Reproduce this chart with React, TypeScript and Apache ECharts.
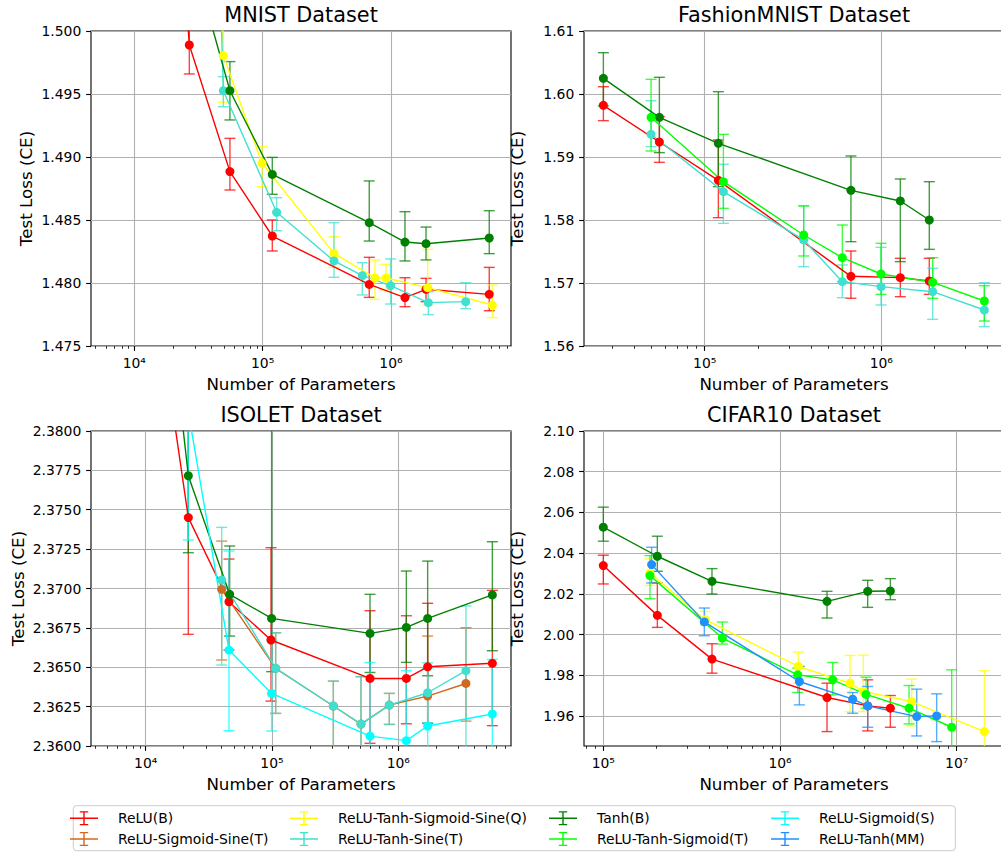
import React, { useEffect, useRef } from 'react';
import * as echarts from 'echarts';

const FONT = 'DejaVu Sans';

// Each row: [number of parameters, test loss, lower error bound, upper error bound]
// ---------------- MNIST ----------------
const mnistReluB = [
  [13400, 1.5438, 1.5438, 1.5438],
  [26830, 1.49889, 1.49659, 1.50119],
  [55600, 1.48884, 1.48738, 1.49148],
  [118900, 1.48373, 1.48254, 1.485],
  [677000, 1.47989, 1.47886, 1.48204],
  [1285000, 1.47884, 1.47812, 1.48042],
  [1875000, 1.4795, 1.47852, 1.48037],
  [5830000, 1.4791, 1.4778, 1.48124],
];
const mnistReluTanhSigSineQ = [
  [24700, 1.611, 1.611, 1.611],
  [49400, 1.49804, 1.49434, 1.50174],
  [98900, 1.4895, 1.48765, 1.49082],
  [359700, 1.48235, 1.48124, 1.48368],
  [750000, 1.4804, 1.4787, 1.48183],
  [914000, 1.4804, 1.47944, 1.48148],
  [1932000, 1.47963, 1.47825, 1.48267],
  [6170000, 1.47825, 1.47725, 1.47984],
];
const mnistReluTanhSineT = [
  [24700, 1.6, 1.6, 1.6],
  [49400, 1.49526, 1.49399, 1.49638],
  [128500, 1.48561, 1.48415, 1.48677],
  [359700, 1.48175, 1.48045, 1.48479],
  [598000, 1.48058, 1.47905, 1.48161],
  [993000, 1.47979, 1.47833, 1.48191],
  [1954000, 1.47844, 1.47749, 1.47931],
  [3820000, 1.47852, 1.47796, 1.48003],
];
const mnistTanhB = [
  [26830, 1.5068, 1.5068, 1.5068],
  [55600, 1.49526, 1.49294, 1.49757],
  [118900, 1.48862, 1.48704, 1.48997],
  [677000, 1.48479, 1.48333, 1.4881],
  [1285000, 1.48325, 1.48175, 1.48566],
  [1875000, 1.48312, 1.48183, 1.48444],
  [5830000, 1.48357, 1.48233, 1.48574],
];

// ---------------- FashionMNIST ----------------
const fashionReluB = [
  [26700, 1.5982, 1.59577, 1.60116],
  [55400, 1.59238, 1.58915, 1.5964],
  [119500, 1.5863, 1.58037, 1.5927],
  [673000, 1.57106, 1.56757, 1.57508],
  [1281000, 1.57085, 1.56783, 1.57392],
  [1869000, 1.57032, 1.5682, 1.57392],
];
const fashionTanhB = [
  [26700, 1.60249, 1.5981, 1.60656],
  [55400, 1.5963, 1.59069, 1.60265],
  [119500, 1.59217, 1.58529, 1.60037],
  [673000, 1.58471, 1.57656, 1.59016],
  [1281000, 1.58302, 1.57339, 1.58651],
  [1869000, 1.58, 1.57534, 1.58608],
];
const fashionReluTanhSigT = [
  [49700, 1.5963, 1.59095, 1.60233],
  [127600, 1.58608, 1.58185, 1.5936],
  [363500, 1.57762, 1.57429, 1.58222],
  [601500, 1.57402, 1.57021, 1.57921],
  [996000, 1.57143, 1.5682, 1.5763],
  [1953000, 1.57011, 1.56757, 1.57402],
  [3830000, 1.56714, 1.56397, 1.56958],
];
const fashionReluTanhSineT = [
  [49700, 1.5936, 1.59164, 1.59894],
  [127600, 1.5845, 1.57947, 1.58884],
  [363500, 1.57683, 1.57259, 1.58228],
  [601500, 1.57021, 1.56767, 1.57286],
  [996000, 1.56942, 1.56651, 1.57566],
  [1953000, 1.56862, 1.56423, 1.57233],
  [3830000, 1.56571, 1.56307, 1.57005],
];

// ---------------- ISOLET ----------------
const isoletReluB = [
  [10880, 2.3911, 2.3911, 2.3911],
  [21760, 2.3745, 2.36709, 2.38191],
  [45660, 2.36916, 2.36609, 2.37187],
  [98200, 2.36673, 2.36285, 2.37259],
  [596800, 2.36429, 2.36017, 2.36859],
  [1157000, 2.36429, 2.36141, 2.36827],
  [1707000, 2.36503, 2.36144, 2.36906],
  [5550000, 2.36525, 2.36129, 2.36988],
];
const isoletReluSigSineT = [
  [39960, 2.36995, 2.36546, 2.37301],
  [106900, 2.36493, 2.36207, 2.36719],
  [305900, 2.36254, 2.3599, 2.36412],
  [506400, 2.36139, 2.358, 2.3644],
  [848700, 2.3626, 2.36137, 2.36334],
  [1707000, 2.36317, 2.36144, 2.36698],
  [3430000, 2.36397, 2.36158, 2.36751],
];
const isoletReluTanhSineT = [
  [39960, 2.37054, 2.36514, 2.37388],
  [106900, 2.36493, 2.36207, 2.36719],
  [305900, 2.36254, 2.3595, 2.36412],
  [506400, 2.36139, 2.358, 2.3644],
  [848700, 2.3626, 2.36137, 2.36334],
  [1707000, 2.36338, 2.36148, 2.36528],
  [3430000, 2.36478, 2.3595, 2.36889],
];
const isoletTanhB = [
  [10880, 2.3988, 2.3988, 2.3988],
  [21760, 2.37716, 2.37227, 2.38205],
  [46220, 2.36963, 2.36698, 2.3727],
  [99300, 2.3681, 2.36472, 2.383],
  [596800, 2.36715, 2.36467, 2.36963],
  [1157000, 2.36753, 2.36531, 2.37111],
  [1707000, 2.3681, 2.36446, 2.37174],
  [5550000, 2.36959, 2.36605, 2.37297],
];
const isoletReluSigS = [
  [10880, 2.4, 2.4, 2.4],
  [21760, 2.3812, 2.37308, 2.3893],
  [45660, 2.36609, 2.36097, 2.37238],
  [99300, 2.36334, 2.36095, 2.36673],
  [596800, 2.36063, 2.358, 2.3653],
  [1157000, 2.36034, 2.358, 2.36478],
  [1707000, 2.36127, 2.358, 2.36493],
  [5550000, 2.36203, 2.358, 2.3655],
];

// ---------------- CIFAR10 ----------------
const cifarReluB = [
  [100000, 2.03388, 2.02486, 2.03897],
  [202200, 2.00943, 2.00353, 2.02535],
  [412200, 1.98794, 1.98105, 1.99549],
  [1845000, 1.96907, 1.95234, 1.97613],
  [3135000, 1.96497, 1.95267, 1.97777],
  [4212000, 1.96382, 1.95447, 1.97006],
];
const cifarReluTanhSigSineQ = [
  [183700, 2.03027, 2.0242, 2.03716],
  [377800, 2.0073, 2.00484, 2.0114],
  [1270000, 1.98433, 1.97613, 1.99139],
  [2490000, 1.97613, 1.96218, 1.98975],
  [2962000, 1.97203, 1.96218, 1.9899],
  [5563000, 1.9671, 1.95513, 1.9781],
  [14340000, 1.95234, 1.9225, 1.9822],
];
const cifarTanhB = [
  [100000, 2.05275, 2.04586, 2.06259],
  [202200, 2.03847, 2.03109, 2.04832],
  [412200, 2.02617, 2.01993, 2.0324],
  [1845000, 2.01632, 2.00812, 2.02125],
  [3135000, 2.02125, 2.01337, 2.02666],
  [4212000, 2.02141, 2.01714, 2.02748],
];
const cifarReluTanhSigT = [
  [183700, 2.02896, 2.01764, 2.0388],
  [471600, 1.99828, 1.99533, 2.00615],
  [1259000, 1.98023, 1.97154, 1.98351],
  [1987000, 1.97777, 1.97038, 1.9863],
  [3067000, 1.97062, 1.96382, 1.97908],
  [5373000, 1.96382, 1.95611, 1.97498],
  [9370000, 1.95447, 1.92625, 1.98269],
];
const cifarReluTanhMM = [
  [187700, 2.03437, 2.02535, 2.0429],
  [372900, 2.00622, 1.99942, 2.01304],
  [1287000, 1.97695, 1.96546, 1.98433],
  [2578000, 1.96825, 1.96136, 1.97153],
  [3135000, 1.96497, 1.95447, 1.97449],
  [5940000, 1.95972, 1.9502, 1.97318],
  [7700000, 1.96005, 1.94741, 1.97088],
];

// ---------------- ticks ----------------
const mnistXTicks = [1e4, 1e5, 1e6];
const fashionXTicks = [1e5, 1e6];
const isoletXTicks = [1e4, 1e5, 1e6];
const cifarXTicks = [1e5, 1e6, 1e7];
const mnistYTicks = [1.475, 1.48, 1.485, 1.49, 1.495, 1.5];
const fashionYTicks = [1.56, 1.57, 1.58, 1.59, 1.6, 1.61];
const isoletYTicks = [2.36, 2.3625, 2.365, 2.3675, 2.37, 2.3725, 2.375, 2.3775, 2.38];
const cifarYTicks = [1.96, 1.98, 2.0, 2.02, 2.04, 2.06, 2.08, 2.1];
const minorMantissas = [2, 3, 4, 5, 6, 7, 8, 9];
const minorDecades = [3, 4, 5, 6, 7];

// ---------------- methods ----------------
const methodNames = [
  'ReLU(B)',
  'ReLU-Sigmoid-Sine(T)',
  'ReLU-Tanh-Sigmoid-Sine(Q)',
  'ReLU-Tanh-Sine(T)',
  'Tanh(B)',
  'ReLU-Tanh-Sigmoid(T)',
  'ReLU-Sigmoid(S)',
  'ReLU-Tanh(MM)',
];
const methodColors = ['#ff0000', '#d2691e', '#ffff00', '#40e0d0', '#008000', '#00ff00', '#00ffff', '#1e90ff'];

const panels = [
  {
    title: 'MNIST Dataset', left: 91, top: 31,
    xMin: 4598, xMax: 8.612e6, yMin: 1.475, yMax: 1.5,
    xTicks: mnistXTicks, yTicks: mnistYTicks, yDec: 3, yLabelX: 26,
    series: [[0, mnistReluB], [2, mnistReluTanhSigSineQ], [3, mnistReluTanhSineT], [4, mnistTanhB]],
  },
  {
    title: 'FashionMNIST Dataset', left: 584, top: 31,
    xMin: 20740, xMax: 4.949e6, yMin: 1.56, yMax: 1.61,
    xTicks: fashionXTicks, yTicks: fashionYTicks, yDec: 2, yLabelX: 517,
    series: [[0, fashionReluB], [3, fashionReluTanhSineT], [4, fashionTanhB], [5, fashionReluTanhSigT]],
  },
  {
    title: 'ISOLET Dataset', left: 91, top: 431,
    xMin: 3692, xMax: 7.797e6, yMin: 2.36, yMax: 2.38,
    xTicks: isoletXTicks, yTicks: isoletYTicks, yDec: 4, yLabelX: 18,
    series: [[0, isoletReluB], [1, isoletReluSigSineT], [3, isoletReluTanhSineT], [4, isoletTanhB], [6, isoletReluSigS]],
  },
  {
    title: 'CIFAR10 Dataset', left: 584, top: 431,
    xMin: 77760, xMax: 1.852e7, yMin: 1.94526, yMax: 2.1,
    xTicks: cifarXTicks, yTicks: cifarYTicks, yDec: 2, yLabelX: 517,
    series: [[0, cifarReluB], [2, cifarReluTanhSigSineQ], [4, cifarTanhB], [5, cifarReluTanhSigT], [7, cifarReluTanhMM]],
  },
];

const GRID_W = 420;
const GRID_H = 315;

const legendColumns = [
  { left: 70, names: [0, 1] },
  { left: 290, names: [2, 3] },
  { left: 549, names: [4, 5] },
  { left: 771, names: [6, 7] },
];
const LEGEND_ICON = 'path://M0,6.3H28V7.7H0Z M13.3,0H14.7V14H13.3Z M9.8,0H18.2V1.3H9.8Z M9.8,12.7H18.2V14H9.8Z';

const SUP: Record<number, string> = { 3: '\u00b3', 4: '\u2074', 5: '\u2075', 6: '\u2076', 7: '\u2077' };

function buildOption() {
  const minorTicks: number[] = [];
  minorDecades.forEach((d) => minorMantissas.forEach((m) => minorTicks.push(m * Math.pow(10, d))));

  const grid = panels.map((p) => ({
    left: p.left, top: p.top, width: GRID_W, height: GRID_H,
    show: true, borderColor: '#000', borderWidth: 1.1, backgroundColor: 'rgba(0,0,0,0)',
  }));

  const xAxis: any[] = [];
  panels.forEach((p, i) => {
    xAxis.push({
      type: 'log', logBase: 10, gridIndex: i, min: p.xMin, max: p.xMax, position: 'bottom',
      axisLine: { show: false },
      axisTick: { show: true, length: 4.9, lineStyle: { color: '#000', width: 1.1 }, customValues: p.xTicks },
      axisLabel: {
        show: true, customValues: p.xTicks, margin: 9.7, fontSize: 13.9, color: '#000', fontFamily: FONT,
        formatter: (v: number) => '10' + SUP[Math.round(Math.log10(v))],
      },
      splitLine: { show: true, lineStyle: { color: '#b0b0b0', width: 1.1 } },
      minorTick: { show: false }, minorSplitLine: { show: false },
    });
    xAxis.push({
      type: 'log', logBase: 10, gridIndex: i, min: p.xMin, max: p.xMax, position: 'bottom',
      axisLine: { show: false },
      axisTick: { show: true, length: 2.8, lineStyle: { color: '#000', width: 0.8 }, customValues: minorTicks },
      axisLabel: { show: false },
      splitLine: { show: false },
    });
  });

  const yAxis = panels.map((p, i) => ({
    type: 'value', gridIndex: i, min: p.yMin, max: p.yMax,
    axisLine: { show: false },
    axisTick: { show: true, length: 4.9, lineStyle: { color: '#000', width: 1.1 }, customValues: p.yTicks },
    axisLabel: {
      show: true, customValues: p.yTicks, margin: 9.7, fontSize: 13.9, color: '#000', fontFamily: FONT,
      formatter: (v: number) => v.toFixed(p.yDec),
    },
    splitLine: { show: true, lineStyle: { color: '#b0b0b0', width: 1.1 } },
  }));

  const series: any[] = [];
  panels.forEach((p, i) => {
    (p.series as any[]).forEach(([mi, rows]: [number, number[][]]) => {
      const color = methodColors[mi];
      const name = methodNames[mi];
      series.push({
        type: 'line', name, xAxisIndex: i * 2, yAxisIndex: i,
        data: rows.map((r) => [r[0], r[1]]),
        symbol: 'circle', symbolSize: 9, showSymbol: true, showAllSymbol: true, clip: true,
        lineStyle: { color, width: 1.4 }, itemStyle: { color },
        emphasis: { disabled: true },
      });
      series.push({
        type: 'custom', name, xAxisIndex: i * 2, yAxisIndex: i, clip: true,
        itemStyle: { color },
        data: rows.map((r) => [r[0], r[1], r[2], r[3]]),
        encode: { x: 0, y: [2, 3] },
        renderItem: (_params: any, api: any) => {
          const x = api.value(0);
          const pLo = api.coord([x, api.value(2)]);
          const pHi = api.coord([x, api.value(3)]);
          const cap = 5.5;
          const style = { stroke: color, lineWidth: 1.4, opacity: 0.75 };
          return {
            type: 'group',
            children: [
              { type: 'line', shape: { x1: pLo[0], y1: pLo[1], x2: pHi[0], y2: pHi[1] }, style },
              { type: 'line', shape: { x1: pLo[0] - cap, y1: pLo[1], x2: pLo[0] + cap, y2: pLo[1] }, style },
              { type: 'line', shape: { x1: pHi[0] - cap, y1: pHi[1], x2: pHi[0] + cap, y2: pHi[1] }, style },
            ],
          };
        },
      });
    });
  });

  const legend = legendColumns.map((c) => ({
    orient: 'vertical', left: c.left, top: 811.3, padding: 0,
    itemWidth: 44, itemHeight: 14, itemGap: 6.7, symbolKeepAspect: true, selectedMode: false,
    textStyle: { fontSize: 13.9, color: '#000', fontFamily: FONT, padding: [0, 0, 0, 7] },
    data: c.names.map((mi) => ({ name: methodNames[mi], icon: LEGEND_ICON })),
  }));

  const graphic: any[] = [
    {
      type: 'rect', z: 0, shape: { x: 73.3, y: 805.7, width: 882, height: 45, r: 3 },
      style: { fill: '#fff', stroke: '#cccccc', lineWidth: 1 },
    },
  ];
  panels.forEach((p) => {
    const cx = p.left + GRID_W / 2;
    graphic.push({
      type: 'text', x: cx, y: p.top - 16,
      style: { text: p.title, fontSize: 20.8, fontFamily: FONT, fill: '#000', align: 'center', verticalAlign: 'middle' },
    });
    graphic.push({
      type: 'text', x: cx, y: p.top + GRID_H + 38,
      style: { text: 'Number of Parameters', fontSize: 16.7, fontFamily: FONT, fill: '#000', align: 'center', verticalAlign: 'middle' },
    });
    graphic.push({
      type: 'text', x: p.yLabelX, y: p.top + GRID_H / 2, rotation: Math.PI / 2,
      style: { text: 'Test Loss (CE)', fontSize: 16.7, fontFamily: FONT, fill: '#000', align: 'center', verticalAlign: 'middle' },
    });
  });

  return {
    animation: false,
    backgroundColor: '#ffffff',
    textStyle: { fontFamily: FONT },
    grid, xAxis, yAxis, series, legend, graphic,
  };
}

export default function App() {
  const ref = useRef<HTMLDivElement>(null);
  useEffect(() => {
    if (!ref.current) return;
    const chart = echarts.init(ref.current, undefined, { renderer: 'svg' });
    chart.setOption(buildOption() as any);
    return () => chart.dispose();
  }, []);
  return (
    <div style={{ position: 'absolute', left: 0, top: 0, width: 1001, height: 852, overflow: 'hidden', background: '#fff' }}>
      <div ref={ref} style={{ width: 1010, height: 852 }} />
    </div>
  );
}
